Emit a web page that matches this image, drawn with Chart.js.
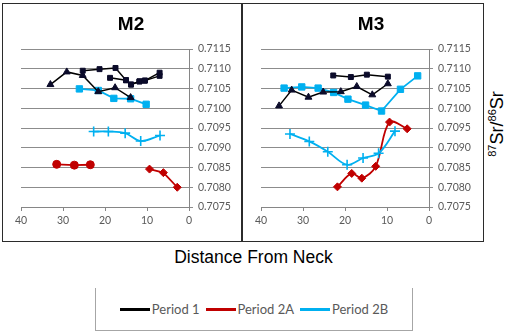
<!DOCTYPE html>
<html>
<head>
<meta charset="utf-8">
<script src="https://cdn.jsdelivr.net/npm/chart.js@4.4.1/dist/chart.umd.min.js"></script>
<style>
  body { margin: 0; background: #fff; width: 507px; height: 333px; position: relative; overflow: hidden; }
  .panel { position: absolute; top: 3px; height: 237px; border: 1px solid #2b2b2b; background: #fff; }
  .panel canvas { position: absolute; left: 0; top: 0; }
  #xTitle { position: absolute; left: 0; width: 507px; top: 247px; text-align: center;
            font: 17.5px "Liberation Sans", Arial, sans-serif; color: #000; }
  #yTitle { position: absolute; left: 497px; top: 124px; transform: translate(-50%, -50%) rotate(-90deg);
            white-space: nowrap; font: 18px "Liberation Sans", Arial, sans-serif; color: #000; }
  #yTitle sup { font-size: 11px; vertical-align: 7px; line-height: 0; }
  #legend { position: absolute; left: 95px; top: 288px; width: 316px; height: 42px;
            border: 1.5px solid #a6a6a6; border-top: none;
            display: flex; align-items: center; justify-content: center; }
  .item { display: flex; align-items: center; margin: 0 3px; font: 13px Lato, sans-serif; color: #595959; }
  .swatch { width: 30px; height: 3px; margin-right: 2px; }
</style>
</head>
<body>
<div class="panel" style="left:2px;width:238px"><canvas id="m2" width="238" height="237"></canvas></div>
<div class="panel" style="left:242px;width:240px"><canvas id="m3" width="240" height="237"></canvas></div>
<div id="xTitle">Distance From Neck</div>
<div id="yTitle"><sup>87</sup>Sr/<sup>86</sup>Sr</div>
<div id="legend"></div>
<script>
// distance from neck (mm) and 87Sr/86Sr for each sampled tooth
const m2P1TriDist = [33.0, 29.1, 25.3, 21.6, 17.6, 13.9];
const m2P1TriSr   = [0.71060, 0.71092, 0.71083, 0.71042, 0.71052, 0.71027];
const m2P1SqDist  = [25.3, 21.3, 17.5, 15.0, 13.8, 11.8, 10.5, 7.0];
const m2P1SqSr    = [0.71095, 0.71099, 0.71102, 0.71071, 0.71060, 0.71068, 0.71070, 0.71090];
const m2P1Sq2Dist = [18.8, 15.0, 13.8, 11.8, 10.5, 7.0];
const m2P1Sq2Sr   = [0.71077, 0.71071, 0.71060, 0.71068, 0.71070, 0.71082];
const m2P2bSqDist = [26.1, 21.6, 17.9, 13.9, 10.2];
const m2P2bSqSr   = [0.71049, 0.71045, 0.71025, 0.71024, 0.71010];
const m2P2bCrDist = [22.7, 19.2, 15.2, 11.5, 6.9];
const m2P2bCrSr   = [0.70941, 0.70941, 0.70937, 0.70917, 0.70931];
const m2P2aCiDist = [31.5, 27.3, 23.5];
const m2P2aCiSr   = [0.70858, 0.70856, 0.70857];
const m2P2aDiDist = [9.4, 6.1, 2.8];
const m2P2aDiSr   = [0.70846, 0.70837, 0.70800];

const m3P1SqDist  = [22.8, 18.6, 14.8, 9.8];
const m3P1SqSr    = [0.71083, 0.71079, 0.71085, 0.71080];
const m3P1TriDist = [35.7, 32.7, 28.7, 25.2, 21.0, 17.2, 13.5, 9.8];
const m3P1TriSr   = [0.71006, 0.71046, 0.71028, 0.71041, 0.71042, 0.71055, 0.71034, 0.71062];
const m3P2bSqDist = [34.5, 30.3, 26.4, 22.7, 19.3, 15.1, 11.3, 6.8, 2.7];
const m3P2bSqSr   = [0.71051, 0.71054, 0.71051, 0.71040, 0.71023, 0.71008, 0.70993, 0.71048, 0.71082];
const m3P2bCrDist = [33.1, 28.5, 24.1, 19.5, 15.7, 12.0, 8.1];
const m3P2bCrSr   = [0.70935, 0.70916, 0.70890, 0.70857, 0.70874, 0.70886, 0.70942];
const m3P2aDiDist = [21.8, 18.4, 16.0, 12.7, 9.4, 5.2];
const m3P2aDiSr   = [0.70801, 0.70835, 0.70823, 0.70853, 0.70965, 0.70948];

const periods = ['Period 1', 'Period 2A', 'Period 2B'];
const periodColors = ['#000000', '#c00000', '#00b0f0'];
const markerDark = '#0b0b2a';

const srMin = 0.7075, srMax = 0.7115, srStep = 0.0005;
const distTicks = [0, 10, 20, 30, 40];

function series(dist, sr, period, style, size, smooth) {
    const color = periodColors[period];
    const fill = period === 0 ? markerDark : color;
    return {
        label: periods[period],
        data: dist.map((d, i) => ({ x: d, y: sr[i] })),
        showLine: true,
        borderColor: color,
        borderWidth: period === 0 ? 1.5 : 1.8,
        tension: smooth ? 0.35 : 0,
        pointStyle: style,
        pointRadius: size,
        pointBackgroundColor: fill,
        pointBorderColor: fill,
        pointBorderWidth: style === 'cross' ? 1.6 : 1
    };
}

function buildPanel(canvasId, title, datasets, rightPad) {
    const tickFont = { family: 'Lato', size: 10.5 };
    return new Chart(document.getElementById(canvasId), {
        type: 'scatter',
        data: { datasets },
        options: {
            responsive: false,
            animation: false,
            devicePixelRatio: 1,
            layout: { padding: { left: 18, right: rightPad, top: 0, bottom: 0 } },
            plugins: {
                legend: { display: false },
                tooltip: { enabled: false },
                title: {
                    display: true,
                    text: title,
                    color: '#000',
                    font: { family: 'Liberation Sans', size: 19, weight: 'bold', lineHeight: 1.2 },
                    padding: { top: 9.5, bottom: 12.7 }
                }
            },
            scales: {
                x: {
                    type: 'linear',
                    reverse: true,
                    min: 0,
                    max: 40,
                    afterBuildTicks: (scale) => { scale.ticks = distTicks.map(v => ({ value: v })); },
                    afterFit: (scale) => { scale.height = 34; },
                    ticks: { color: '#595959', font: tickFont, padding: 3, maxRotation: 0 },
                    grid: { drawOnChartArea: false, drawTicks: true, tickLength: 4, color: '#868686' },
                    border: { color: '#868686', width: 1 }
                },
                y: {
                    position: 'right',
                    min: srMin,
                    max: srMax,
                    afterBuildTicks: (scale) => {
                        const ticks = [];
                        for (let i = 0; i <= Math.round((srMax - srMin) / srStep); i++) {
                            ticks.push({ value: srMin + i * srStep });
                        }
                        scale.ticks = ticks;
                    },
                    afterFit: (scale) => { scale.width = 52; },
                    ticks: { color: '#595959', font: tickFont, padding: 5, callback: v => v.toFixed(4) },
                    grid: { color: '#8c8c8c', lineWidth: 1, tickLength: 4 },
                    border: { color: '#868686', width: 1 }
                }
            }
        }
    });
}

buildPanel('m2', 'M2', [
    series(m2P1TriDist, m2P1TriSr, 0, 'triangle', 4, false),
    series(m2P1SqDist, m2P1SqSr, 0, 'rect', 3.5, false),
    series(m2P1Sq2Dist, m2P1Sq2Sr, 0, 'rect', 3.5, false),
    series(m2P2bSqDist, m2P2bSqSr, 2, 'rect', 4.5, false),
    series(m2P2bCrDist, m2P2bCrSr, 2, 'cross', 5, true),
    series(m2P2aCiDist, m2P2aCiSr, 1, 'circle', 4, false),
    series(m2P2aDiDist, m2P2aDiSr, 1, 'rectRot', 4, false)
], 0);

buildPanel('m3', 'M3', [
    series(m3P1SqDist, m3P1SqSr, 0, 'rect', 3.5, false),
    series(m3P1TriDist, m3P1TriSr, 0, 'triangle', 4, false),
    series(m3P2bSqDist, m3P2bSqSr, 2, 'rect', 4.5, false),
    series(m3P2bCrDist, m3P2bCrSr, 2, 'cross', 5, true),
    series(m3P2aDiDist, m3P2aDiSr, 1, 'rectRot', 4, true)
], 2);

// shared legend: one line swatch per period
const legend = document.getElementById('legend');
periods.forEach((name, i) => {
    const item = document.createElement('div');
    item.className = 'item';
    item.innerHTML = `<span class="swatch" style="background:${periodColors[i]}"></span>${name}`;
    legend.appendChild(item);
});
</script>
</body>
</html>
